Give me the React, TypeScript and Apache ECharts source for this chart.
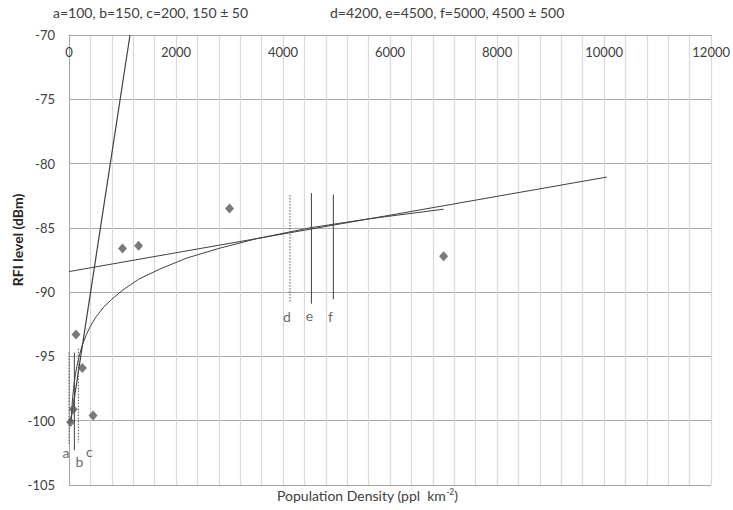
import React, { useEffect, useRef } from 'react';
import * as echarts from 'echarts';

// Measured scatter points (population density, RFI level)
const densities = [30, 80, 130, 250, 450, 1000, 1300, 3000, 7000];
const rfiLevels = [-100.1, -99.1, -93.3, -95.9, -99.6, -86.6, -86.4, -83.5, -87.2];

// Trend lines
const steepTrendX = [35, 1140];
const steepTrendY = [-100.0, -70.0];
const linearTrendX = [0, 10050];
const linearTrendY = [-88.4, -81.05];
const logTrendX = [37, 45, 55, 70, 85, 100, 120, 150, 190, 250, 320, 400, 500, 650, 800, 1000, 1300, 1700, 2200, 2800, 3500, 4500, 5600, 7000];
const logTrendY = [-100.15, -99.53, -98.89, -98.13, -97.51, -97.0, -96.42, -95.72, -94.97, -94.1, -93.35, -92.65, -91.95, -91.15, -90.55, -89.85, -89.0, -88.2, -87.35, -86.6, -85.85, -85.0, -84.3, -83.55];

// Vertical marker lines a..f
const markerNames = ['a', 'b', 'c', 'd', 'e', 'f'];
const markerX = [0, 100, 175, 4130, 4530, 4940];
const markerTop = [-94.7, -94.7, -94.4, -82.45, -82.3, -82.4];
const markerBottom = [-101.8, -102.3, -101.7, -90.8, -90.9, -90.55];
const markerDotted = [true, false, true, true, false, false];

const annotationLeft = 'a=100, b=150, c=200, 150 ± 50';
const annotationRight = 'd=4200, e=4500, f=5000, 4500 ± 500';
const xAxisTitle = 'Population Density (ppl  km';
const yAxisTitle = 'RFI level (dBm)';

const xMin = 0, xMax = 12000, xGridStep = 400, xLabelStep = 2000;
const yMin = -105, yMax = -70, yStep = 5;

const FONT = 'Lato, "Open Sans", sans-serif';
const TEXT = '#404040';

export default function App() {
  const ref = useRef<HTMLDivElement>(null);
  useEffect(() => {
    if (!ref.current) return;
    const chart = echarts.init(ref.current, undefined, { renderer: 'svg' });
    const labelOffsets = [[-3, 2], [5, 4], [11, 2], [-3, 7], [-2, 5], [-3, 10]];

    const markerSeries = markerNames.map((n, i) => ({
      type: 'line',
      name: 'marker-' + n,
      data: [[markerX[i], markerTop[i]], [markerX[i], markerBottom[i]]],
      symbol: 'none',
      lineStyle: {
        color: markerDotted[i] ? '#555' : '#404040',
        width: 1,
        type: markerDotted[i] ? [1.5, 1.5] : 'solid',
      },
      z: 3,
    }));

    const option: any = {
      animation: false,
      textStyle: { fontFamily: FONT },
      grid: { left: 69, right: 19, top: 35, bottom: 25, containLabel: false },
      xAxis: {
        type: 'value',
        position: 'top',
        min: xMin,
        max: xMax,
        interval: xGridStep,
        axisLine: { show: true, lineStyle: { color: '#a6a6a6' } },
        axisTick: { show: false },
        axisLabel: {
          inside: true,
          margin: 10,
          color: TEXT,
          fontSize: 13,
          fontFamily: FONT,
          showMaxLabel: true,
          formatter: (v: number) => (v % xLabelStep === 0 ? String(v) : ''),
        },
        splitLine: { show: true, lineStyle: { color: '#d9d9d9', width: 1.2 } },
      },
      yAxis: {
        type: 'value',
        min: yMin,
        max: yMax,
        interval: yStep,
        axisLine: { show: true, lineStyle: { color: '#a6a6a6' } },
        axisTick: { show: false },
        axisLabel: { color: TEXT, fontSize: 13, margin: 14, fontFamily: FONT },
        splitLine: { show: true, lineStyle: { color: '#a6a6a6', width: 1 } },
      },
      graphic: [
        {
          type: 'text', left: 53, top: 5,
          style: { text: annotationLeft, fill: TEXT, font: `14px ${FONT}` },
        },
        {
          type: 'text', left: 330, top: 5,
          style: { text: annotationRight, fill: TEXT, font: `14px ${FONT}` },
        },
        {
          type: 'text', x: 277, y: 487,
          style: {
            text: `{m|${xAxisTitle}}{s|-2}{m|)}`,
            rich: {
              m: { fontSize: 14, fill: TEXT, fontFamily: FONT },
              s: { fontSize: 8.5, fill: TEXT, fontFamily: FONT, padding: [0, 0, 8, 0] },
            },
          },
        },
        {
          type: 'text', x: 17, y: 240, rotation: Math.PI / 2,
          style: {
            text: yAxisTitle, fill: '#262626', font: `bold 14px ${FONT}`,
            align: 'center', verticalAlign: 'middle',
          },
        },
      ],
      series: [
        {
          type: 'line', name: 'linear trend',
          data: linearTrendX.map((x, i) => [x, linearTrendY[i]]),
          symbol: 'none', lineStyle: { color: '#404040', width: 1 }, z: 2,
        },
        {
          type: 'line', name: 'log trend',
          data: logTrendX.map((x, i) => [x, logTrendY[i]]),
          symbol: 'none',
          lineStyle: { color: '#404040', width: 1 }, z: 2,
        },
        {
          type: 'line', name: 'steep trend',
          data: steepTrendX.map((x, i) => [x, steepTrendY[i]]),
          symbol: 'none', lineStyle: { color: '#404040', width: 1.2 }, z: 2,
        },
        ...markerSeries,
        {
          type: 'scatter', name: 'marker labels',
          data: markerNames.map((n, i) => ({
            name: n,
            value: [markerX[i], markerBottom[i]],
            label: { offset: labelOffsets[i] },
          })),
          symbolSize: 0,
          clip: false,
          label: {
            show: true, position: 'bottom', distance: 0,
            formatter: (p: any) => p.name,
            color: TEXT, fontSize: 14, fontFamily: FONT,
          },
          z: 4,
        },
        {
          type: 'scatter', name: 'RFI',
          data: densities.map((x, i) => [x, rfiLevels[i]]),
          symbol: 'diamond', symbolSize: [9, 10],
          itemStyle: { color: '#595959' }, z: 5,
        },
      ],
    };
    chart.setOption(option);
    return () => chart.dispose();
  }, []);
  return (
    <div
      ref={ref}
      style={{ position: 'fixed', left: 0, top: 0, width: 733, height: 510, background: '#fff' }}
    />
  );
}
